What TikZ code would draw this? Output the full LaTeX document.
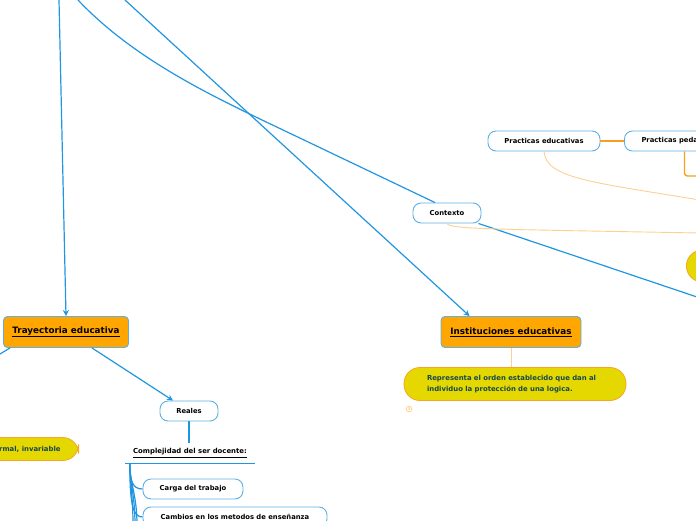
\documentclass[tikz,border=0pt]{standalone}
\usepackage{fontspec}
\setmainfont{DejaVu Sans}
\usetikzlibrary{arrows.meta,positioning}
\definecolor{mapblue}{RGB}{33,150,224}
\definecolor{edgeblue}{RGB}{95,175,228}
\definecolor{topicorange}{RGB}{255,166,0}
\definecolor{noteyellow}{RGB}{229,216,0}
\definecolor{noteedge}{RGB}{247,165,40}
\definecolor{paleorange}{RGB}{253,208,145}
\definecolor{linkorange}{RGB}{247,160,30}
\definecolor{noteteal}{RGB}{22,72,78}

\begin{document}
\begin{tikzpicture}[x=1pt,y=-1pt,
  topic/.style={draw=edgeblue,line width=0.9pt,fill=topicorange,rounded corners=4pt,minimum height=31pt,font=\fontsize{8.8}{10}\bfseries},
  sub/.style={draw=edgeblue,line width=0.9pt,fill=white,rounded corners=8pt,minimum height=20pt,font=\fontsize{6.8}{8}\bfseries},
  note/.style={draw=noteedge,line width=0.8pt,fill=noteyellow,rounded corners=16pt,text=noteteal,font=\fontsize{6.9}{11}\bfseries},
  link/.style={mapblue,line width=1.2pt},
  tip/.style={-{Stealth[length=6pt,width=6pt]}},
  pale/.style={paleorange,line width=0.9pt}]
\useasboundingbox (0,0) rectangle (696,520);

% main topics
\node[topic,minimum width=125pt] (tray) at (66,332) {\underline{Trayectoria educativa}};
\node[topic,minimum width=140pt] (inst) at (511,332) {\underline{Instituciones educativas}};

% subtopics
\node[sub,minimum width=58pt] (reales) at (189,411) {Reales};
\node[sub,minimum width=68pt] (ctx) at (447,213) {Contexto};
\node[sub,minimum width=112pt] (pedu) at (544,141) {Practicas educativas};
\node[sub,minimum width=120pt,anchor=west] (pped) at (624,141) {Practicas pedagogicas};
\node[font=\fontsize{6.9}{8}\bfseries,minimum width=130pt,minimum height=20pt] (compl) at (190,453) {\underline{Complejidad del ser docente:}};
\node[sub,minimum width=100pt] (carga) at (193,489) {Carga del trabajo};
\node[sub,minimum width=184pt] (camb) at (235,517) {Cambios en los metodos de enseñanza};

% notes
\node[note,text width=176pt,inner xsep=23pt,minimum height=33pt,align=left] (rep) at (515,384) {Representa el orden establecido que dan al\\individuo la protección de una logica.};
\node[note,anchor=east,inner xsep=18pt,minimum height=23pt] (form) at (79,449) {Formal, invariable};
\node[note,anchor=west,minimum width=120pt,minimum height=32pt] (blob) at (686,266) {};
\node[circle,draw=paleorange,line width=0.7pt,inner sep=0.6pt,text=paleorange,font=\fontsize{4}{4}\bfseries] (num) at (409,409) {3};

% loose ends
\coordinate (top1) at (59,0);
\coordinate (top2) at (78,0);
\coordinate (top3) at (125,0);
\coordinate (offl) at (0,354);
\coordinate (offr) at (700,298);
\coordinate (offp) at (700,200);
\coordinate (offc) at (700,233);
\coordinate (offq) at (700,176);
\coordinate (off1) at (133,525);
\coordinate (off2) at (135,525);
\coordinate (off3) at (137,525);

% connectors
\draw[link,tip] (top1) -- (tray.north);
\draw[link] (top2) .. controls (130,55) and (200,90) .. (260,119) -- ([xshift=-12pt]ctx.north);
\draw[link,tip] (top3) -- ([xshift=29pt]inst.north west);
\draw[link] ([xshift=-56pt]tray.south) -- (offl);
\draw[link,tip] ([xshift=26pt]tray.south) -- ([xshift=-16pt]reales.north);
\draw[link] (reales.south) -- (reales.south |- compl.north);
\draw[link] (compl.south west) -- (compl.south east);
\draw[link] ([xshift=5pt]compl.south west) .. controls +(0,18) and +(-10,0) .. (carga.west);
\draw[link] ([xshift=5pt]compl.south west) .. controls +(0,40) and +(-10,0) .. (camb.west);
\draw[link] ([xshift=5pt]compl.south west) .. controls +(0,20) and +(0,-30) .. (off1);
\draw[link] ([xshift=5pt]compl.south west) .. controls +(0,20) and +(0,-30) .. (off2);
\draw[link] ([xshift=5pt]compl.south west) .. controls +(0,20) and +(0,-30) .. (off3);
\draw[link] ([xshift=-3pt]ctx.south east) -- (offr);
\draw[linkorange,line width=1.8pt] (pedu) -- (pped);
\draw[linkorange,line width=1.4pt,rounded corners=3pt] (pped.south) |- (offq);
\draw[pale] (pedu.south) .. controls (546,178) and (590,182) .. (offp);
\draw[pale] (ctx.south) .. controls (450,229) and (480,229) .. (offc);
\draw[pale] (inst.south) -- (inst.south |- rep.north);
\end{tikzpicture}
\end{document}
